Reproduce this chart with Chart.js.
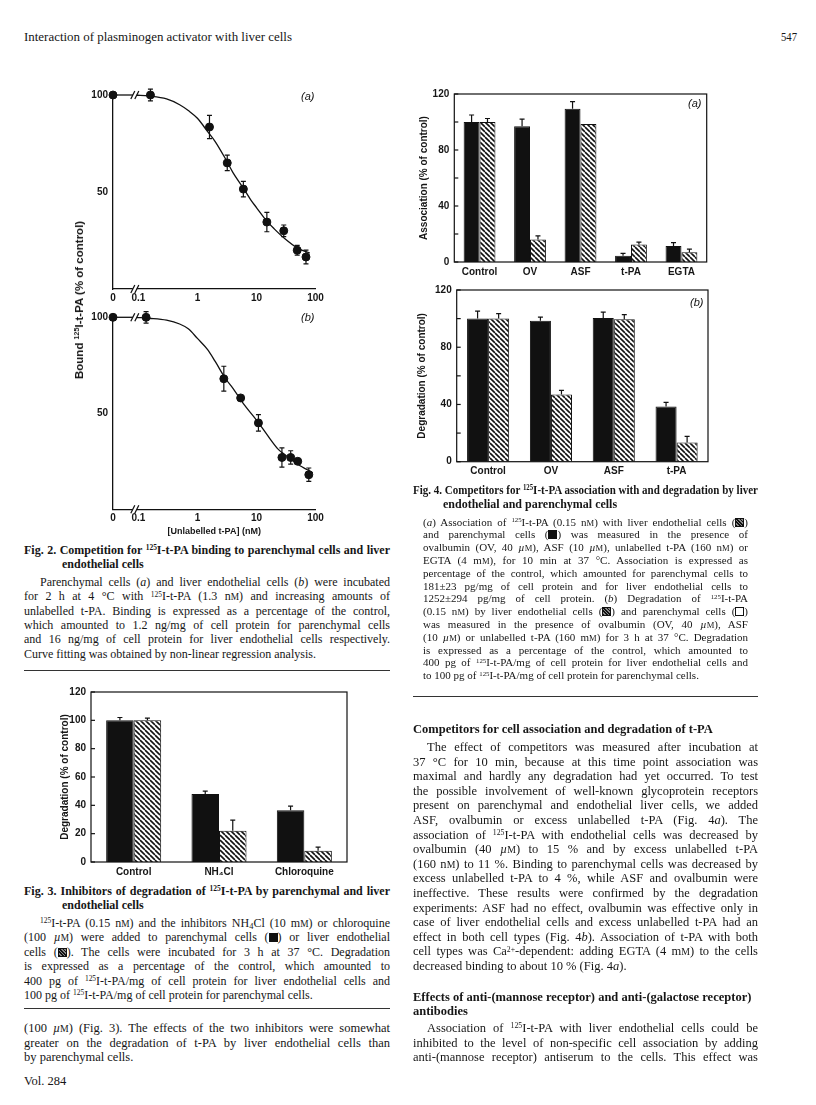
<!DOCTYPE html>
<html>
<head>
<meta charset="utf-8">
<script src="https://cdn.jsdelivr.net/npm/chart.js@4.4.0/dist/chart.umd.min.js"></script>
<style>
html, body { margin: 0; padding: 0; background: #fff; }
#page { position: relative; width: 816px; height: 1105px; overflow: hidden; color: #161616;
  font-family: "Liberation Serif", "Times New Roman", serif; }
.ln { position: absolute; white-space: nowrap; line-height: 14px; }
.ln > span { display: inline-block; transform-origin: 0 50%; }
.cap { font-size: 12px; }
.cap2 { font-size: 11px; }
.txt { font-size: 12.5px; }
.hd { font-size: 13.5px; }
.b { font-weight: bold; }
sup { font-size: 0.62em; vertical-align: 0; position: relative; top: -0.5em; line-height: 0; }
sub { font-size: 0.7em; vertical-align: 0; position: relative; top: 0.25em; line-height: 0; }
.sc { font-size: 0.78em; }
.sq { display: inline-block; width: 7px; height: 7px; border: 1px solid #111; vertical-align: -1px; }
.sq.k { background: #111; }
.sq.h { background: repeating-linear-gradient(45deg, #111 0 1.2px, #888 1.2px 2.4px); }
.tag { position: absolute; font: italic 11px "Liberation Sans", Arial, sans-serif; }
.rule { position: absolute; height: 0; border-top: 1.4px solid #333; }
.vt { position: absolute; font: bold 11.5px "Liberation Sans", Arial, sans-serif; white-space: nowrap;
  transform: translate(-50%, -50%) rotate(-90deg); }
canvas { position: absolute; }
</style>
</head>
<body>
<div id="page"></div>
<script>
const page = document.getElementById("page");

// ---- data: Fig. 2 (binding vs unlabelled t-PA, nM) ----
const xTickNM = [0, 0.1, 1, 10, 100];
const xTickText = ["0", "0.1", "1", "10", "100"];
const yTicks2 = [50, 100];

const f2aConc = [0, 0.16, 1.6, 3.2, 6.0, 15, 29, 49, 69];
const f2aBound = [100, 100, 83.5, 65, 51.5, 34.5, 30, 20, 16.5];
const f2aErr = [0, 3, 6, 4, 4, 5, 3, 2.5, 3.5];
const f2aCurveConc = [0.09, 0.15, 0.3, 0.5, 0.7, 1, 1.5, 2, 3, 4, 6, 8, 10, 15, 20, 30, 50, 80];
const f2aCurveY = [100, 99.5, 98, 95, 92, 88, 81, 76, 67, 60, 52, 46, 42, 35, 31, 26, 21, 18.5];

const f2bConc = [0, 0.135, 2.8, 5.4, 10.8, 27, 38, 50, 77];
const f2bBound = [100, 100, 68, 58, 45, 27, 27, 25, 18];
const f2bErr = [0, 3, 6.5, 0, 4.3, 5, 3.5, 0, 3.5];
const f2bCurveConc = [0.09, 0.15, 0.3, 0.5, 0.7, 1, 1.5, 2, 3, 4, 6, 10, 15, 23, 30, 50, 90];
const f2bCurveY = [100, 99.5, 98.5, 96.5, 94, 89, 83, 77, 68, 63, 55, 46.5, 39, 31.5, 28.5, 23.5, 19];

// ---- data: Fig. 3 ----
const f3Cats = ["Control", "NH\u2084Cl", "Chloroquine"];
const f3Par = [100, 48, 36.5];
const f3ParErr = [2, 2, 3];
const f3End = [100, 22, 8];
const f3EndErr = [1.5, 7.5, 2.5];

// ---- data: Fig. 4 ----
const f4aCats = ["Control", "OV", "ASF", "t-PA", "EGTA"];
const f4aPar = [100, 97, 109.5, 4.5, 11.5];
const f4aParErr = [5, 5, 5, 1.7, 2.4];
const f4aEnd = [100, 16, 98.5, 12.5, 7];
const f4aEndErr = [2.5, 2.6, 0, 1.7, 2.2];

const f4bCats = ["Control", "OV", "ASF", "t-PA"];
const f4bPar = [100, 98.5, 100.5, 38.5];
const f4bParErr = [5.3, 2.6, 4, 3];
const f4bEnd = [100, 47, 99.5, 13.5];
const f4bEndErr = [3.5, 2.8, 3.3, 4.2];

const XMIN = -1.43;   // log position of the "0" (control) point
const XMAX = 2;
const BREAK_NM = 0.087;

Chart.defaults.font.family = "'Liberation Sans', Arial, sans-serif";
Chart.defaults.font.size = 10;
Chart.defaults.font.weight = "bold";
Chart.defaults.color = "#161616";
Chart.defaults.animation = false;

function makeCanvas(left, top, w, h) {
  const c = document.createElement("canvas");
  c.width = w;
  c.height = h;
  c.style.left = left + "px";
  c.style.top = top + "px";
  c.style.width = w + "px";
  c.style.height = h + "px";
  page.appendChild(c);
  return c;
}

function hatch() {
  const s = 5;
  const c = document.createElement("canvas");
  c.width = c.height = s;
  const g = c.getContext("2d");
  g.fillStyle = "#fff";
  g.fillRect(0, 0, s, s);
  g.strokeStyle = "#111";
  g.lineWidth = 1.6;
  for (const k of [-s, 0, s]) {
    g.beginPath();
    g.moveTo(k, 0);
    g.lineTo(k + s, s);
    g.stroke();
  }
  return g.createPattern(c, "repeat");
}

const errorPlugin = {
  id: "errs",
  afterDatasetsDraw(chart) {
    const ctx = chart.ctx;
    const y = chart.scales.y;
    ctx.save();
    ctx.strokeStyle = "#111";
    ctx.lineWidth = 1.2;
    chart.data.datasets.forEach((ds, di) => {
      if (!ds.errors) return;
      const meta = chart.getDatasetMeta(di);
      meta.data.forEach((el, i) => {
        const e = ds.errors[i];
        if (!e) return;
        const d = ds.data[i];
        const v = typeof d === "object" ? d.y : d;
        const top = y.getPixelForValue(v + e);
        const bot = ds.bothWays ? y.getPixelForValue(v - e) : y.getPixelForValue(v);
        ctx.beginPath();
        ctx.moveTo(el.x, top);
        ctx.lineTo(el.x, bot);
        ctx.moveTo(el.x - 2.5, top);
        ctx.lineTo(el.x + 2.5, top);
        if (ds.bothWays) {
          ctx.moveTo(el.x - 2.5, bot);
          ctx.lineTo(el.x + 2.5, bot);
        }
        ctx.stroke();
      });
    });
    ctx.restore();
  },
};

const framePlugin = {
  id: "frame",
  afterDraw(chart) {
    const { ctx, chartArea: a, scales } = chart;
    ctx.save();
    ctx.strokeStyle = "#111";
    ctx.lineWidth = 1.2;
    ctx.strokeRect(a.left, a.top, a.right - a.left, a.bottom - a.top);
    scales.y.ticks.forEach((t) => {
      const py = scales.y.getPixelForValue(t.value);
      ctx.beginPath();
      ctx.moveTo(a.left, py);
      ctx.lineTo(a.left + 4, py);
      ctx.stroke();
    });
    ctx.restore();
  },
};

const breakPlugin = {
  id: "brk",
  afterDraw(chart) {
    const { ctx, scales } = chart;
    const px = scales.x.getPixelForValue(Math.log10(BREAK_NM));
    ctx.save();
    [scales.y.getPixelForValue(0), scales.y.getPixelForValue(100)].forEach((py) => {
      ctx.fillStyle = "#fff";
      ctx.fillRect(px - 2, py - 3, 4, 6);
      ctx.strokeStyle = "#111";
      ctx.lineWidth = 1.2;
      [-2, 2].forEach((dx) => {
        ctx.beginPath();
        ctx.moveTo(px + dx - 2, py + 4);
        ctx.lineTo(px + dx + 2, py - 4);
        ctx.stroke();
      });
    });
    ctx.restore();
  },
};

function toX(nm) {
  return nm === 0 ? XMIN : Math.log10(nm);
}

function bindingChart(rect, conc, bound, err, curveConc, curveY, xTitle) {
  const canvas = makeCanvas(rect.left, rect.top, rect.w, rect.h);
  const firstCurve = curveConc[0];
  return new Chart(canvas, {
    type: "scatter",
    data: {
      datasets: [
        {
          data: [{ x: XMIN, y: 100 }, { x: Math.log10(firstCurve), y: 100 }],
          showLine: true, pointRadius: 0, borderColor: "#111", borderWidth: 1.3, clip: false,
        },
        {
          data: curveConc.map((c, i) => ({ x: Math.log10(c), y: curveY[i] })),
          showLine: true, pointRadius: 0, borderColor: "#111", borderWidth: 1.3,
          cubicInterpolationMode: "monotone", clip: false,
        },
        {
          data: conc.map((c, i) => ({ x: toX(c), y: bound[i] })),
          pointRadius: 4, pointBackgroundColor: "#111", pointBorderColor: "#111",
          errors: err, bothWays: true, clip: false,
        },
      ],
    },
    options: {
      responsive: false,
      layout: { padding: { left: 0, top: rect.pt, right: rect.pr, bottom: rect.pb || 0 } },
      plugins: { legend: { display: false }, tooltip: { enabled: false } },
      scales: {
        x: {
          type: "linear", min: XMIN, max: XMAX,
          grid: { display: false, drawTicks: false },
          border: { display: true, color: "#111", width: 1.3 },
          afterBuildTicks: (s) => { s.ticks = xTickNM.map((v) => ({ value: toX(v) })); },
          ticks: { padding: 3, autoSkip: false, maxRotation: 0, callback: (v, i) => xTickText[i] },
          title: xTitle ? { display: true, text: xTitle, font: { size: 9 }, padding: { top: 0, bottom: 3.4 } } : { display: false },
          afterFit: (s) => { s.height = rect.xh; s.paddingLeft = 0; s.paddingRight = 0; },
        },
        y: {
          min: 0, max: 100,
          grid: { display: false, drawTicks: false },
          border: { display: true, color: "#111", width: 1.3 },
          afterBuildTicks: (s) => { s.ticks = yTicks2.map((v) => ({ value: v })); },
          ticks: { padding: 5 },
          afterFit: (s) => { s.width = rect.yw; s.paddingTop = 0; s.paddingBottom = 0; },
        },
      },
    },
    plugins: [errorPlugin, breakPlugin],
  });
}

function barChart(rect, cats, par, parErr, end, endErr, yTitle, labelEvery, catPct) {
  const canvas = makeCanvas(rect.left, rect.top, rect.w, rect.h);
  return new Chart(canvas, {
    type: "bar",
    data: {
      labels: cats,
      datasets: [
        { label: "Parenchymal", data: par, errors: parErr, backgroundColor: "#111", borderColor: "#111", borderWidth: 1 },
        { label: "Endothelial", data: end, errors: endErr, backgroundColor: hatch(), borderColor: "#111", borderWidth: 1 },
      ],
    },
    options: {
      responsive: false,
      categoryPercentage: catPct,
      barPercentage: 1,
      layout: { padding: { left: 0, top: rect.pt, right: rect.pr, bottom: 0 } },
      plugins: { legend: { display: false }, tooltip: { enabled: false } },
      scales: {
        x: {
          grid: { display: false, drawTicks: false },
          border: { display: false },
          ticks: { padding: 4, maxRotation: 0, autoSkip: false },
          afterFit: (s) => { s.height = rect.xh; s.paddingLeft = 0; s.paddingRight = 0; },
        },
        y: {
          min: 0, max: 120,
          grid: { display: false, drawTicks: false },
          border: { display: false },
          ticks: { stepSize: 20, padding: 5, callback: (v) => (v % labelEvery === 0 ? v : "") },
          title: { display: true, text: yTitle, padding: { top: rect.tp, bottom: 0 } },
          afterFit: (s) => { s.width = rect.yw; s.paddingTop = 0; s.paddingBottom = 0; },
        },
      },
    },
    plugins: [errorPlugin, framePlugin],
  });
}

// ---- charts ----
bindingChart({ left: 60, top: 82, w: 270, h: 220, pt: 13, pr: 14.5, xh: 13, yw: 53 },
  f2aConc, f2aBound, f2aErr, f2aCurveConc, f2aCurveY, null);
bindingChart({ left: 60, top: 302, w: 270, h: 238, pt: 15.3, pr: 14.5, xh: 30.7, yw: 53, pb: 0 },
  f2bConc, f2bBound, f2bErr, f2bCurveConc, f2bCurveY, "[Unlabelled t-PA] (nM)");

barChart({ left: 40, top: 680, w: 320, h: 200, pt: 12, pr: 13, xh: 18, yw: 51, tp: 19 },
  f3Cats, f3Par, f3ParErr, f3End, f3EndErr, "Degradation (% of control)", 20, 0.645);
barChart({ left: 410, top: 82, w: 310, h: 198, pt: 12, pr: 13.3, xh: 18, yw: 44.3, tp: 8.4 },
  f4aCats, f4aPar, f4aParErr, f4aEnd, f4aEndErr, "Association (% of control)", 40, 0.63);
barChart({ left: 410, top: 278, w: 310, h: 202, pt: 12, pr: 12, xh: 18.3, yw: 46.7, tp: 6.4 },
  f4bCats, f4bPar, f4bParErr, f4bEnd, f4bEndErr, "Degradation (% of control)", 40, 0.67);

// ---- text ----
function add(el) { page.appendChild(el); return el; }

function line(html, x, yc, w, cls, justify) {
  const d = document.createElement("div");
  d.className = "ln " + cls;
  d.style.left = x + "px";
  d.style.top = yc - 7 + "px";
  d.style.width = w + "px";
  const s = document.createElement("span");
  s.innerHTML = html;
  d.appendChild(s);
  add(d);
  const nat = s.getBoundingClientRect().width;
  if (nat > w) {
    s.style.transform = "scaleX(" + w / nat + ")";
  } else if (justify) {
    const n = (s.textContent.match(/ /g) || []).length;
    if (n) s.style.wordSpacing = (w - nat) / n + "px";
  }
}

function block(lines, x, y0, w, step, cls, indent, lastLeft) {
  lines.forEach((t, i) => {
    const dx = i === 0 ? indent : 0;
    const isLast = i === lines.length - 1;
    line(t, x + dx, y0 + i * step, w - dx, cls, !(isLast && lastLeft));
  });
}

function title2(lines, x, y0, w, hang, step, cls) {
  line(lines[0], x, y0, w, cls + " b", true);
  line(lines[1], x + hang, y0 + step, w - hang, cls + " b", false);
}

function rule(x, y, w) {
  const r = document.createElement("div");
  r.className = "rule";
  r.style.left = x + "px";
  r.style.top = y + "px";
  r.style.width = w + "px";
  add(r);
}

function tag(text, x, y) {
  const t = document.createElement("div");
  t.className = "tag";
  t.textContent = text;
  t.style.left = x + "px";
  t.style.top = y - 7 + "px";
  add(t);
}

const nM = 'n<span class="sc">M</span>';
const mM = 'm<span class="sc">M</span>';
const uM = '<i>µ</i><span class="sc">M</span>';
const I125 = "<sup>125</sup>I-t-PA";
const K = '<span class="sq k"></span>';
const H = '<span class="sq h"></span>';
const W = '<span class="sq"></span>';

line("Interaction of plasminogen activator with liver cells", 24, 37, 268, "hd", true);
line("547", 781, 37, 16, "hd", false);

tag("(a)", 301, 97);
tag("(b)", 301, 318);
tag("(a)", 688, 104);
tag("(b)", 690, 303);

const yTitle2 = document.createElement("div");
yTitle2.className = "vt";
yTitle2.innerHTML = "Bound <sup>125</sup>I-t-PA (% of control)";
yTitle2.style.left = "79px";
yTitle2.style.top = "300px";
add(yTitle2);

const LW = 366;

const fig2Title = [
  "Fig. 2. Competition for " + I125 + " binding to parenchymal cells and liver",
  "endothelial cells",
];
const fig2Body = [
  "Parenchymal cells (<i>a</i>) and liver endothelial cells (<i>b</i>) were incubated",
  "for 2 h at 4 °C with " + I125 + " (1.3 " + nM + ") and increasing amounts of",
  "unlabelled t-PA. Binding is expressed as a percentage of the control,",
  "which amounted to 1.2 ng/mg of cell protein for parenchymal cells",
  "and 16 ng/mg of cell protein for liver endothelial cells respectively.",
  "Curve fitting was obtained by non-linear regression analysis.",
];
title2(fig2Title, 24, 549.5, LW, 38, 14, "cap");
block(fig2Body, 24, 582, LW, 14.3, "cap", 16, true);
rule(24, 670, LW);

const fig3Title = [
  "Fig. 3. Inhibitors of degradation of " + I125 + " by parenchymal and liver",
  "endothelial cells",
];
const fig3Body = [
  I125 + " (0.15 " + nM + ") and the inhibitors NH<sub>4</sub>Cl (10 " + mM + ") or chloroquine",
  "(100 " + uM + ") were added to parenchymal cells (" + K + ") or liver endothelial",
  "cells (" + H + "). The cells were incubated for 3 h at 37 °C. Degradation",
  "is expressed as a percentage of the control, which amounted to",
  "400 pg of " + I125 + "/mg of cell protein for liver endothelial cells and",
  "100 pg of " + I125 + "/mg of cell protein for parenchymal cells.",
];
title2(fig3Title, 24, 890.5, LW, 38, 14, "cap");
block(fig3Body, 24, 923, LW, 14.4, "cap", 16, true);
rule(24, 1008, LW);

const leftBody = [
  "(100 " + uM + ") (Fig. 3). The effects of the two inhibitors were somewhat",
  "greater on the degradation of t-PA by liver endothelial cells than",
  "by parenchymal cells.",
];
block(leftBody, 24, 1028, LW, 14.5, "txt", 0, true);
line("Vol. 284", 24, 1081, 60, "txt", false);

const fig4Title = [
  "Fig. 4. Competitors for " + I125 + " association with and degradation by liver",
  "endothelial and parenchymal cells",
];
const fig4Body = [
  "(<i>a</i>) Association of " + I125 + " (0.15 " + nM + ") with liver endothelial cells (" + H + ")",
  "and parenchymal cells (" + K + ") was measured in the presence of",
  "ovalbumin (OV, 40 " + uM + "), ASF (10 " + uM + "), unlabelled t-PA (160 " + nM + ") or",
  "EGTA (4 " + mM + "), for 10 min at 37 °C. Association is expressed as",
  "percentage of the control, which amounted for parenchymal cells to",
  "181±23 pg/mg of cell protein and for liver endothelial cells to",
  "1252±294 pg/mg of cell protein. (<i>b</i>) Degradation of " + I125,
  "(0.15 " + nM + ") by liver endothelial cells (" + H + ") and parenchymal cells (" + W + ")",
  "was measured in the presence of ovalbumin (OV, 40 " + uM + "), ASF",
  "(10 " + uM + ") or unlabelled t-PA (160 " + mM + ") for 3 h at 37 °C. Degradation",
  "is expressed as a percentage of the control, which amounted to",
  "400 pg of " + I125 + "/mg of cell protein for liver endothelial cells and",
  "to 100 pg of " + I125 + "/mg of cell protein for parenchymal cells.",
];
title2(fig4Title, 413, 490, 345, 30, 13.5, "cap");
block(fig4Body, 423, 521.5, 325, 12.8, "cap2", 0, true);
rule(413, 696, 345);

line("Competitors for cell association and degradation of t-PA", 413, 729, 345, "txt b", false);
const rightBody = [
  "The effect of competitors was measured after incubation at",
  "37 °C for 10 min, because at this time point association was",
  "maximal and hardly any degradation had yet occurred. To test",
  "the possible involvement of well-known glycoprotein receptors",
  "present on parenchymal and endothelial liver cells, we added",
  "ASF, ovalbumin or excess unlabelled t-PA (Fig. 4<i>a</i>). The",
  "association of " + I125 + " with endothelial cells was decreased by",
  "ovalbumin (40 " + uM + ") to 15 % and by excess unlabelled t-PA",
  "(160 " + nM + ") to 11 %. Binding to parenchymal cells was decreased by",
  "excess unlabelled t-PA to 4 %, while ASF and ovalbumin were",
  "ineffective. These results were confirmed by the degradation",
  "experiments: ASF had no effect, ovalbumin was effective only in",
  "case of liver endothelial cells and excess unlabelled t-PA had an",
  "effect in both cell types (Fig. 4<i>b</i>). Association of t-PA with both",
  "cell types was Ca<sup>2+</sup>-dependent: adding EGTA (4 " + mM + ") to the cells",
  "decreased binding to about 10 % (Fig. 4<i>a</i>).",
];
block(rightBody, 413, 747, 345, 14.6, "txt", 14, true);

line("Effects of anti-(mannose receptor) and anti-(galactose receptor)", 413, 997, 345, "txt b", false);
line("antibodies", 413, 1011, 100, "txt b", false);
const rightBody2 = [
  "Association of " + I125 + " with liver endothelial cells could be",
  "inhibited to the level of non-specific cell association by adding",
  "anti-(mannose receptor) antiserum to the cells. This effect was",
];
block(rightBody2, 413, 1028, 345, 14.5, "txt", 14, false);
</script>
</body>
</html>
